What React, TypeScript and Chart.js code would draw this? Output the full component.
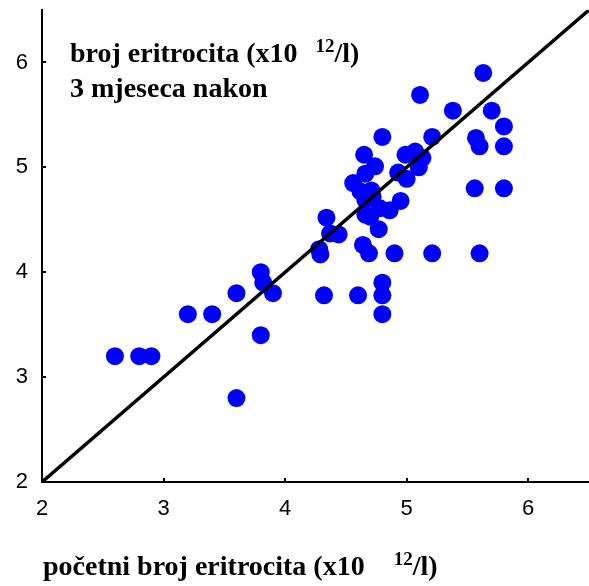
import React, { useEffect, useRef } from "react";
import { Chart, registerables } from "chart.js";

Chart.register(...registerables);

const X_VALUES: number[] = [
  2.6, 2.8, 2.9, 3.2, 3.4, 3.6, 3.6, 3.8, 3.8, 3.82, 3.9,
  4.32, 4.6, 4.8, 4.8, 4.8, 4.28, 4.29, 4.64, 4.69, 4.9, 5.21, 5.6,
  4.34, 4.37, 4.44, 4.77, 4.7, 4.86, 4.95, 4.56, 4.62, 4.66, 4.71,
  4.66, 4.74, 4.65, 4.8, 5.21, 5.11, 5.38, 5.63, 5.7, 5.8, 5.57, 5.6,
  5.8, 5.56, 5.8, 4.93, 5.0, 4.99, 5.07, 5.13, 5.1, 4.66, 4.78, 4.72,
];
const Y_VALUES: number[] = [
  3.2, 3.2, 3.2, 3.6, 3.6, 3.8, 2.8, 3.4, 4.0, 3.9, 3.8,
  3.78, 3.78, 3.9, 3.78, 3.6, 4.22, 4.17, 4.26, 4.18, 4.18, 4.18, 4.18,
  4.52, 4.37, 4.36, 4.41, 4.53, 4.59, 4.68, 4.85, 4.77, 4.69, 4.78,
  4.94, 5.01, 5.12, 5.29, 5.29, 5.69, 5.54, 5.9, 5.54, 5.39, 5.28, 5.2,
  5.2, 4.8, 4.8, 4.95, 4.89, 5.12, 5.15, 5.09, 5.0, 4.55, 4.61, 4.72,
];
const LINE_X: number[] = [2, 6.5];
const LINE_Y: number[] = [2, 6.5];
const X_TICKS: number[] = [2, 3, 4, 5, 6];
const Y_TICKS: number[] = [2, 3, 4, 5, 6];
const AXIS_MIN = 2;
const AXIS_MAX = 6.5;
const Y_TITLE_LINES: string[] = ["broj eritrocita (x10", "3 mjeseca nakon"];
const X_TITLE = "početni broj eritrocita (x10";
const SUP = "12";
const UNIT = "/l)";

const titlePlugin = {
  id: "titles",
  afterDraw(chart: any) {
    const ctx = chart.ctx;
    const { chartArea, scales } = chart;
    ctx.save();
    ctx.fillStyle = "#000";
    ctx.textAlign = "left";
    ctx.textBaseline = "alphabetic";
    const main = "bold 28px 'Liberation Serif', 'Times New Roman', serif";
    const sup = "bold 19px 'Liberation Serif', 'Times New Roman', serif";
    const drawWithSup = (text: string, x: number, y: number, gap: number) => {
      ctx.font = main;
      ctx.fillText(text, x, y);
      let cx = x + ctx.measureText(text).width + gap;
      ctx.font = sup;
      ctx.fillText(SUP, cx, y - 10);
      cx += ctx.measureText(SUP).width;
      ctx.font = main;
      ctx.fillText(UNIT, cx, y);
    };
    // inward tick marks
    ctx.strokeStyle = "#000";
    ctx.lineWidth = 2;
    const xs = scales.x;
    const ys = scales.y;
    X_TICKS.forEach((v) => {
      const px = Math.round(xs.getPixelForValue(v));
      ctx.beginPath();
      ctx.moveTo(px, chartArea.bottom);
      ctx.lineTo(px, chartArea.bottom - 4);
      ctx.stroke();
    });
    Y_TICKS.forEach((v) => {
      const py = Math.round(ys.getPixelForValue(v));
      ctx.beginPath();
      ctx.moveTo(chartArea.left, py);
      ctx.lineTo(chartArea.left + 4, py);
      ctx.stroke();
    });
    drawWithSup(Y_TITLE_LINES[0], chartArea.left + 28, 62, 18);
    ctx.font = main;
    ctx.fillText(Y_TITLE_LINES[1], chartArea.left + 28, 97);
    drawWithSup(X_TITLE, 43, 575, 29);
    ctx.restore();
  },
};

export default function App() {
  const ref = useRef<HTMLCanvasElement | null>(null);
  useEffect(() => {
    if (!ref.current) return;
    const points = X_VALUES.map((x, i) => ({ x, y: Y_VALUES[i] }));
    const line = LINE_X.map((x, i) => ({ x, y: LINE_Y[i] }));
    const tickFont = { family: "'Liberation Sans', Arial, sans-serif", size: 22 };
    const chart = new Chart(ref.current, {
      type: "scatter",
      data: {
        datasets: [
          {
            data: line,
            showLine: true,
            borderColor: "#000",
            borderWidth: 3.5,
            pointRadius: 0,
            fill: false,
          } as any,
          {
            data: points,
            backgroundColor: "#0000FF",
            borderWidth: 0,
            pointRadius: 9,
            pointHoverRadius: 9,
          },
        ],
      },
      options: {
        animation: false,
        responsive: false,
        events: [],
        layout: { autoPadding: false, padding: { top: 10, right: 0, left: 0, bottom: 0 } },
        plugins: { legend: { display: false }, tooltip: { enabled: false } },
        scales: {
          x: {
            type: "linear",
            min: AXIS_MIN,
            max: AXIS_MAX,
            afterBuildTicks: (s: any) => {
              s.ticks = X_TICKS.map((v) => ({ value: v }));
            },
            afterFit: (s: any) => {
              s.height = 104;
              s.paddingLeft = 0;
              s.paddingRight = 0;
            },
            grid: { display: false, drawTicks: false },
            border: { display: true, color: "#000", width: 2 },
            ticks: { color: "#000", font: tickFont, padding: 14, maxRotation: 0 },
          },
          y: {
            type: "linear",
            min: AXIS_MIN,
            max: AXIS_MAX,
            afterBuildTicks: (s: any) => {
              s.ticks = Y_TICKS.map((v) => ({ value: v }));
            },
            afterFit: (s: any) => {
              s.width = 42;
              s.paddingTop = 0;
              s.paddingBottom = 0;
            },
            grid: { display: false, drawTicks: false },
            border: { display: true, color: "#000", width: 2 },
            ticks: { color: "#000", font: tickFont, padding: 14 },
          },
        },
      },
      plugins: [titlePlugin],
    });
    return () => chart.destroy();
  }, []);
  return (
    <div style={{ position: "absolute", left: 0, top: 0, width: 589, height: 586, background: "#fff" }}>
      <canvas ref={ref} width={589} height={586} style={{ display: "block" }} />
    </div>
  );
}
